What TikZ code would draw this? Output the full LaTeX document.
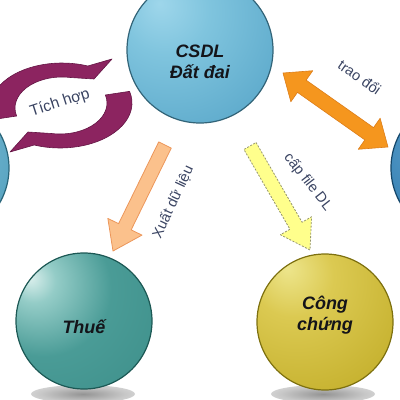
\documentclass[tikz,border=0pt]{standalone}
\usepackage{fontspec}
\setmainfont{Liberation Sans}
\usetikzlibrary{calc}

\definecolor{purp}{RGB}{140,36,96}
\definecolor{purpd}{RGB}{100,22,68}
\definecolor{orng}{RGB}{245,150,30}
\definecolor{orngd}{RGB}{220,125,25}
\definecolor{peach}{RGB}{251,193,140}
\definecolor{peachd}{RGB}{236,150,90}
\definecolor{yel}{RGB}{255,255,140}
\definecolor{yeld}{RGB}{150,150,110}
\definecolor{labc}{RGB}{58,68,98}
\definecolor{txtc}{RGB}{20,20,25}
\definecolor{csdle}{RGB}{50,100,120}
\definecolor{thuee}{RGB}{28,88,84}
\definecolor{conge}{RGB}{125,112,15}
\definecolor{lfte}{RGB}{40,100,120}
\definecolor{rgte}{RGB}{20,70,105}

\pgfdeclareradialshading{csdlball}{\pgfpoint{-14bp}{16bp}}{rgb(0bp)=(0.62,0.84,0.92);rgb(15bp)=(0.50,0.77,0.87);rgb(40bp)=(0.37,0.67,0.80);rgb(62bp)=(0.28,0.56,0.69);rgb(100bp)=(0.28,0.56,0.69)}
\pgfdeclareradialshading{thueball}{\pgfpoint{-20bp}{16bp}}{rgb(0bp)=(0.86,0.94,0.93);rgb(8bp)=(0.58,0.80,0.78);rgb(25bp)=(0.29,0.61,0.59);rgb(55bp)=(0.23,0.55,0.53);rgb(72bp)=(0.17,0.45,0.43);rgb(100bp)=(0.17,0.45,0.43)}
\pgfdeclareradialshading{congball}{\pgfpoint{-14bp}{20bp}}{rgb(0bp)=(0.93,0.90,0.55);rgb(15bp)=(0.86,0.79,0.32);rgb(40bp)=(0.78,0.70,0.19);rgb(70bp)=(0.64,0.57,0.09);rgb(100bp)=(0.64,0.57,0.09)}
\pgfdeclareradialshading{leftball}{\pgfpoint{-10bp}{10bp}}{rgb(0bp)=(0.55,0.80,0.88);rgb(40bp)=(0.32,0.62,0.74);rgb(70bp)=(0.22,0.50,0.62);rgb(100bp)=(0.22,0.50,0.62)}
\pgfdeclareradialshading{rightball}{\pgfpoint{-10bp}{10bp}}{rgb(0bp)=(0.35,0.62,0.80);rgb(40bp)=(0.16,0.46,0.66);rgb(70bp)=(0.10,0.36,0.55);rgb(100bp)=(0.10,0.36,0.55)}
\pgfdeclareradialshading{shad}{\pgfpointorigin}{rgb(0bp)=(0.58,0.58,0.58);rgb(20bp)=(0.78,0.78,0.78);rgb(50bp)=(1,1,1);rgb(100bp)=(1,1,1)}

\newcommand\blkarrow[6]{% style, tail, tip, shaft half, head half, head length
  \path ($(#3)!#6!(#2)$) coordinate (hb);
  \path[#1] ($(#2)!#4!90:(#3)$) -- ($(hb)!#4!90:(#3)$) -- ($(hb)!#5!90:(#3)$) -- (#3)
    -- ($(hb)!#5!-90:(#3)$) -- ($(hb)!#4!-90:(#3)$) -- ($(#2)!#4!-90:(#3)$) -- cycle;}
\newcommand\dblarrow[6]{% style, tipA, tipB, shaft half, head half, head length
  \path ($(#2)!#6!(#3)$) coordinate (hba);
  \path ($(#3)!#6!(#2)$) coordinate (hbb);
  \path[#1] (#2) -- ($(hba)!#5!90:(#3)$) -- ($(hba)!#4!90:(#3)$) -- ($(hbb)!#4!90:(#3)$)
    -- ($(hbb)!#5!90:(#3)$) -- (#3) -- ($(hbb)!#5!-90:(#3)$) -- ($(hbb)!#4!-90:(#3)$)
    -- ($(hba)!#4!-90:(#3)$) -- ($(hba)!#5!-90:(#3)$) -- cycle;}

\begin{document}
\begin{tikzpicture}[x=1pt,y=-1pt,
  sphere/.style={circle, minimum size=#1, inner sep=0pt, line width=1.2pt},
  sphtext/.style={font=\fontsize{18pt}{21pt}\selectfont\bfseries\itshape, text=txtc, align=center, inner sep=0pt},
  arrlab/.style={font=\fontsize{14.5pt}{16pt}\selectfont, text=labc, inner sep=0pt},
  purparrow/.style={fill=purp, draw=purpd, line width=0.6pt, line join=round},
  orangearrow/.style={fill=orng, draw=orngd, line width=0.6pt, line join=round},
  peacharrow/.style={fill=peach, draw=peachd, line width=0.8pt, line join=round},
  yellowarrow/.style={fill=yel, draw=yeld, line width=0.8pt, dash pattern=on 2pt off 1.5pt, line join=round}]
\useasboundingbox (0,0) rectangle (400,400);
\clip (0,0) rectangle (400,400);

% shadows
\shade[shading=shad] (83,394) ellipse [x radius=52pt, y radius=9pt];
\shade[shading=shad] (323,394) ellipse [x radius=52pt, y radius=9pt];

% spheres
\node[sphere=140pt, shading=leftball, draw=lfte] (lft) at (-61,168) {};
\node[sphere=140pt, shading=rightball, draw=rgte] (rgt) at (461,168) {};
\node[sphere=146pt, shading=csdlball, draw=csdle] (csdl) at (200,50) {};
\node[sphere=136pt, shading=thueball, draw=thuee] (thue) at (84,321) {};
\node[sphere=136pt, shading=congball, draw=conge] (cong) at (325,322) {};

\node[sphtext] (csdlt) at ([yshift=-12pt]csdl.center) {CSDL\\Đất đai};
\node[sphtext] (thuet) at ([yshift=-6pt]thue.center) {Thuế};
\node[sphtext] (congt) at ([yshift=7pt]cong.center) {Công\\chứng};

% cycle arrows (Tích hợp)
\path[purparrow] (-7.55,119.65) arc[start angle=195, end angle=69, x radius=72pt, y radius=45pt]
  -- (112,59) -- (94,79) -- (70.16,77.47)
  arc[start angle=80, end angle=195, x radius=47pt, y radius=31pt] -- cycle;
\path[purparrow] (129.55,91.35) arc[start angle=15, end angle=-111, x radius=72pt, y radius=45pt]
  -- (10,152) -- (28,132) -- (51.84,133.53)
  arc[start angle=260, end angle=375, x radius=47pt, y radius=31pt] -- cycle;
\node[arrlab, rotate=18, font=\fontsize{15.5pt}{17pt}\selectfont] (tich) at (60,103) {Tích hợp};

% block arrows
\coordinate (oA) at (283,73);
\coordinate (oB) at (388,147);
\coordinate (pA) at (165,145);
\coordinate (pB) at (113,251);
\coordinate (yA) at (250,146);
\coordinate (yB) at (310,250);

\dblarrow{orangearrow}{oA}{oB}{7.5pt}{19pt}{23pt}
\blkarrow{peacharrow}{pA}{pB}{7pt}{19pt}{27pt}
\blkarrow{yellowarrow}{yA}{yB}{7pt}{18pt}{28pt}

\node[arrlab, rotate=-35] (trao) at (360,77) {trao đổi};
\node[arrlab, rotate=65] (xuat) at (173,202) {Xuất dữ liệu};
\node[arrlab, rotate=-52] (cap) at (308,182) {cấp file DL};
\end{tikzpicture}
\end{document}
